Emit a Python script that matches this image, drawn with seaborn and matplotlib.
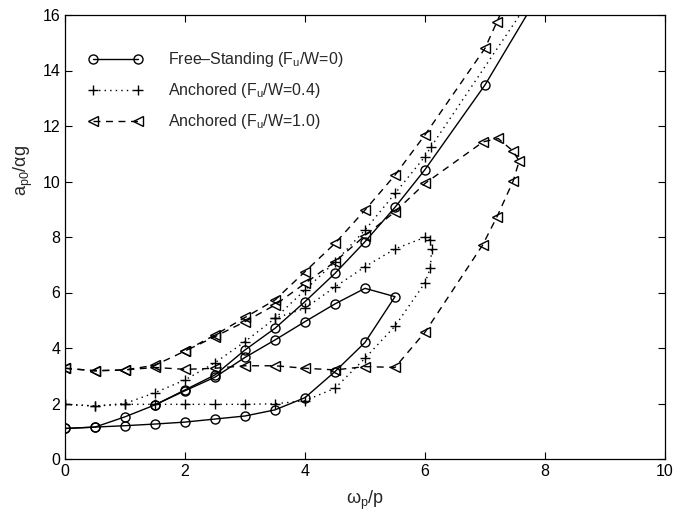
import matplotlib
matplotlib.use("Agg")
import matplotlib.pyplot as plt
import seaborn as sns
import pandas as pd

# ---------------- data ----------------
# Free-standing (Fu/W = 0): upper branch, and lower+middle (fold) branch
fs_upper_x = [0, 0.5, 1, 1.5, 2, 2.5, 3, 3.5, 4, 4.5, 5, 5.5, 6, 7, 8]
fs_upper_y = [1.10, 1.15, 1.52, 1.95, 2.49, 3.03, 3.93, 4.71, 5.67, 6.69, 7.83, 9.07, 10.43, 13.48, 17.1]
fs_fold_x = [0, 0.5, 1, 1.5, 2, 2.5, 3, 3.5, 4, 4.5, 5, 5.5,
             5, 4.5, 4, 3.5, 3, 2.5, 2, 1.5]
fs_fold_y = [1.10, 1.15, 1.20, 1.26, 1.33, 1.44, 1.55, 1.77, 2.21, 3.15, 4.20, 5.85,
             6.15, 5.59, 4.95, 4.29, 3.66, 2.95, 2.46, 1.95]

# Anchored (Fu/W = 0.4)
a4_upper_x = [0, 0.5, 1, 1.5, 2, 2.5, 3, 3.5, 4, 4.5, 5, 5.5, 6, 6.1, 8]
a4_upper_y = [1.97, 1.91, 2.00, 2.39, 2.85, 3.47, 4.23, 5.07, 6.09, 7.10, 8.25, 9.57, 10.90, 11.25, 17.35]
a4_fold_x = [0, 0.5, 1, 1.5, 2, 2.5, 3, 3.5, 4, 4.5, 5, 5.5, 6, 6.09, 6.11, 6.08, 6,
             5.5, 5, 4.5, 4, 3.5]
a4_fold_y = [1.97, 1.91, 1.97, 1.97, 1.97, 1.97, 1.97, 1.99, 2.10, 2.55, 3.63, 4.79, 6.35, 6.89, 7.57, 7.89, 7.99,
             7.57, 6.93, 6.20, 5.43, 5.07]

# Anchored (Fu/W = 1.0)
a10_upper_x = [0, 0.5, 1, 1.5, 2, 2.5, 3, 3.5, 4, 4.5, 5, 5.5, 6, 7, 7.2, 7.5]
a10_upper_y = [3.27, 3.18, 3.21, 3.38, 3.89, 4.47, 5.10, 5.73, 6.75, 7.77, 8.97, 10.23, 11.68, 14.80, 15.76, 17.2]
a10_fold_x = [0, 0.5, 1, 1.5, 2, 2.5, 3, 3.5, 4, 4.5, 5, 5.5, 6, 6.96, 7.2, 7.47, 7.57, 7.46, 7.22,
              6.97, 6, 5.5, 5, 4.5, 4, 3.5, 3, 2.5, 2]
a10_fold_y = [3.27, 3.18, 3.21, 3.30, 3.23, 3.27, 3.36, 3.36, 3.27, 3.21, 3.33, 3.30, 4.57, 7.71, 8.73, 10.02, 10.74, 11.11, 11.55,
              11.43, 9.93, 8.91, 8.05, 7.11, 6.33, 5.55, 4.95, 4.41, 3.89]

labels = ["Free\u2013Standing (F$_\\mathregular{u}$/W=0)",
          "Anchored (F$_\\mathregular{u}$/W=0.4)",
          "Anchored (F$_\\mathregular{u}$/W=1.0)"]

x_ticks = [0, 2, 4, 6, 8, 10]
y_ticks = [0, 2, 4, 6, 8, 10, 12, 14, 16]

# ---------------- styling ----------------
sns.set_style("ticks")
plt.rcParams["font.family"] = ["Liberation Sans", "DejaVu Sans"]
plt.rcParams["mathtext.fontset"] = "custom"
plt.rcParams["mathtext.rm"] = "Liberation Sans"
plt.rcParams["mathtext.it"] = "Liberation Sans:italic"

fig = plt.figure(figsize=(6.92, 5.21), dpi=100)
ax = fig.add_axes([65 / 692, 1 - 459 / 521, 600 / 692, 444 / 521])

series = [
    (labels[0], [(fs_upper_x, fs_upper_y), (fs_fold_x, fs_fold_y)],
     dict(marker="o", linestyle="-", markersize=6.5)),
    (labels[1], [(a4_upper_x, a4_upper_y), (a4_fold_x, a4_fold_y)],
     dict(marker="+", linestyle=(0, (1, 3)), markersize=7.5)),
    (labels[2], [(a10_upper_x, a10_upper_y), (a10_fold_x, a10_fold_y)],
     dict(marker="<", linestyle=(0, (5, 4)), markersize=7)),
]

for name, branches, st in series:
    for i, (bx, by) in enumerate(branches):
        df = pd.DataFrame({"x": bx, "y": by})
        sns.lineplot(data=df, x="x", y="y", ax=ax, sort=False, estimator=None,
                     color="black", linewidth=1.0, marker=st["marker"],
                     linestyle=st["linestyle"], markersize=st["markersize"],
                     markerfacecolor="none", markeredgecolor="black",
                     markeredgewidth=1.0,
                     label=name if i == 0 else "_nolegend_")

ax.set_xlim(0, 10)
ax.set_ylim(0, 16)
ax.set_xticks(x_ticks)
ax.set_yticks(y_ticks)
ax.tick_params(direction="in", top=True, right=True, length=5, width=0.8,
               labelsize=11.5, colors="black")
for s in ax.spines.values():
    s.set_linewidth(0.9)
    s.set_color("black")

ax.set_xlabel(r"$\mathregular{\omega_p/p}$", fontsize=13, labelpad=7)
ax.set_ylabel(r"$\mathregular{a_{p0}/\alpha g}$", fontsize=13)
ax.yaxis.set_label_coords(-0.05, 0.65)

leg = ax.legend(loc="upper left", frameon=False, numpoints=2, fontsize=11.5,
                handlelength=3.4, handletextpad=1.6, labelspacing=0.75,
                borderaxespad=0.0, bbox_to_anchor=(0.028, 0.935))

fig.savefig("out.png", dpi=100)
